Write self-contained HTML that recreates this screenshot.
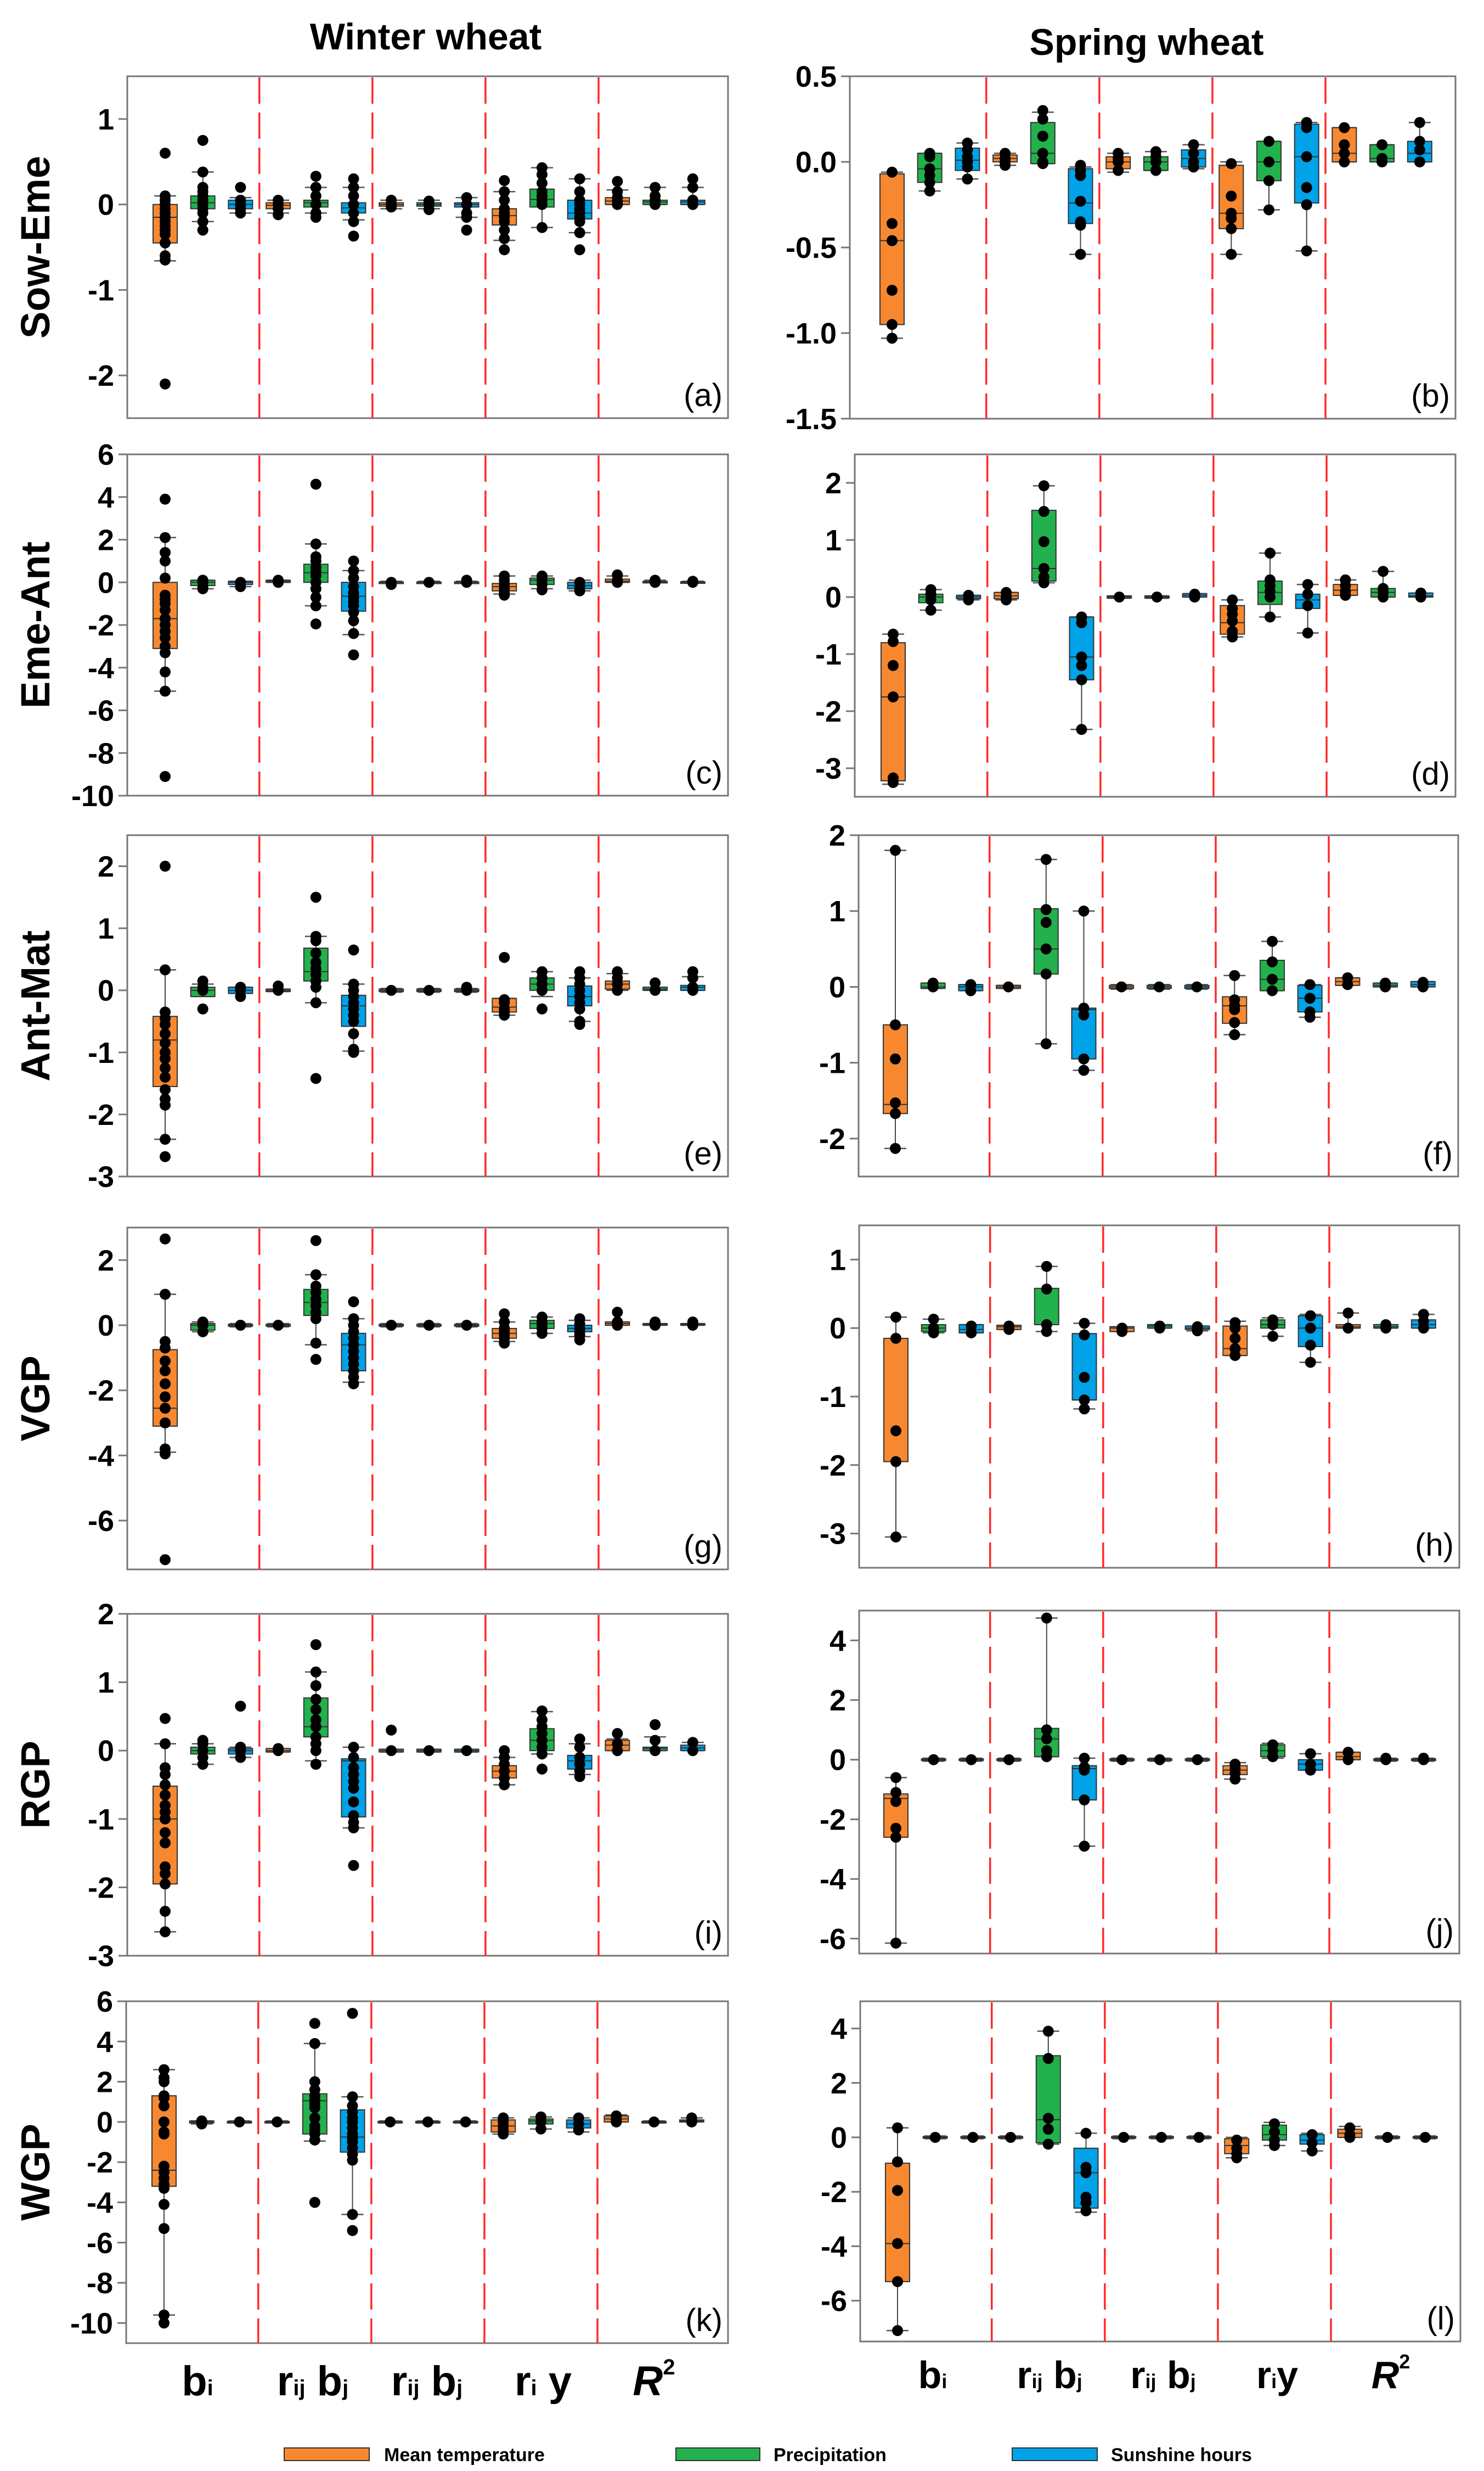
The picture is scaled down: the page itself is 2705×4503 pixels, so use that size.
<!DOCTYPE html>
<html><head><meta charset="utf-8"><title>Winter vs Spring wheat boxplots</title>
<style>
html,body{margin:0;padding:0;background:#fff;}
svg{display:block;font-family:"Liberation Sans",Arial,sans-serif;}
</style></head>
<body>
<svg id="fig" xmlns="http://www.w3.org/2000/svg" width="2705" height="4503" viewBox="0 0 2705 4503">
<rect x="0" y="0" width="2705" height="4503" fill="#fff"/>
<text x="776" y="90" font-size="68" font-weight="bold" text-anchor="middle">Winter wheat</text>
<text x="2090" y="100" font-size="68" font-weight="bold" text-anchor="middle">Spring wheat</text>
<g font-weight="bold" font-size="76">
<text x="360" y="4365" text-anchor="middle">b<tspan font-size="40" dy="0">i</tspan></text>
<text x="570" y="4365" text-anchor="middle">r<tspan font-size="40">ij</tspan> b<tspan font-size="40">j</tspan></text>
<text x="778" y="4365" text-anchor="middle">r<tspan font-size="40">ij</tspan> b<tspan font-size="40">j</tspan></text>
<text x="990" y="4365" text-anchor="middle">r<tspan font-size="40">i</tspan> y</text>
<text x="1192" y="4365" text-anchor="middle"><tspan font-style="italic">R</tspan><tspan font-size="40" dy="-38">2</tspan></text>
</g>
<g font-weight="bold" font-size="70">
<text x="1700" y="4352" text-anchor="middle">b<tspan font-size="36">i</tspan></text>
<text x="1913" y="4352" text-anchor="middle">r<tspan font-size="36">ij</tspan> b<tspan font-size="36">j</tspan></text>
<text x="2120" y="4352" text-anchor="middle">r<tspan font-size="36">ij</tspan> b<tspan font-size="36">j</tspan></text>
<text x="2328" y="4352" text-anchor="middle">r<tspan font-size="36">i</tspan>y</text>
<text x="2535" y="4352" text-anchor="middle"><tspan font-style="italic">R</tspan><tspan font-size="36" dy="-36">2</tspan></text>
</g>
<g font-size="34" font-weight="bold">
<rect x="518" y="4461" width="155" height="23" fill="#f7882f" stroke="#333" stroke-width="2"/>
<text x="700" y="4485">Mean temperature</text>
<rect x="1232" y="4461" width="153" height="23" fill="#22b14c" stroke="#333" stroke-width="2"/>
<text x="1410" y="4485">Precipitation</text>
<rect x="1845" y="4461" width="155" height="23" fill="#00a2e8" stroke="#333" stroke-width="2"/>
<text x="2025" y="4485">Sunshine hours</text>
</g>
</svg>
<script>
// ---------- data: box stats [low whisker, q1, median, q3, high whisker] ----------
const seriesNames = ["Mean temperature","Precipitation","Sunshine hours"];
const categories = ["bi","rij bj","rij bj","ri y","R2"];

const boxesA = [[-0.66,-0.45,-0.15,0,0.1],[-0.2,-0.05,0.02,0.1,0.38],[-0.1,-0.05,0,0.05,0.08],[-0.1,-0.05,-0.01,0.02,0.05],[-0.1,-0.03,0.02,0.05,0.2],[-0.18,-0.1,-0.04,0.02,0.2],[-0.05,-0.02,0,0.02,0.05],[-0.05,-0.02,0,0.02,0.05],[-0.15,-0.03,0,0.02,0.08],[-0.42,-0.24,-0.13,-0.05,0.15],[-0.27,-0.03,0.06,0.18,0.43],[-0.33,-0.17,-0.1,0.05,0.3],[0,0,0.04,0.08,0.17],[0,0,0.03,0.05,0.2],[0,0,0.03,0.05,0.2]];
const dotsA = [[0.6,-2.1,0.1,0.05,0,-0.05,-0.1,-0.15,-0.2,-0.25,-0.3,-0.35,-0.45,-0.6,-0.65],[0.75,-0.3,0.38,0.2,0.15,0.1,0.05,0,-0.05,-0.1,-0.2],[0.2,0.05,0,-0.05,-0.1],[0.05,0,-0.05,-0.12],[0.33,0.2,0.1,0,-0.1,-0.15],[0.3,0.2,0.1,0,-0.1,-0.2,-0.37],[0.05,0,-0.03],[0.04,0,-0.06],[0.08,0,-0.1,-0.15,-0.3],[0.28,0.15,0.05,-0.05,-0.1,-0.15,-0.2,-0.3,-0.4,-0.53],[0.43,0.35,0.25,0.15,0.1,0.05,0,-0.27],[0.3,0.15,0.05,0,-0.05,-0.1,-0.15,-0.2,-0.33,-0.53],[0.27,0.15,0.08,0.04,0],[0.2,0.1,0.05,0],[0.3,0.2,0.05,0]];

const boxesC = [[-5.1,-3.1,-1.7,0,2.1],[-0.3,-0.15,0,0.1,0.1],[-0.2,-0.1,0,0.05,0.05],[0,0,0.05,0.1,0.1],[-1.1,0,0.45,0.85,1.8],[-2.45,-1.35,-0.65,0,0.55],[-0.05,-0.02,0,0.02,0.05],[-0.05,-0.02,0,0.02,0.05],[-0.05,-0.02,0,0.02,0.05],[-0.55,-0.4,-0.2,-0.05,0.3],[-0.3,-0.1,0.1,0.2,0.3],[-0.4,-0.3,-0.15,0,0.1],[0,0,0.05,0.15,0.3],[0,0,0.02,0.05,0.1],[0,0,0.01,0.03,0.05]];
const dotsC = [[3.9,-9.1,2.1,1.4,1,0.2,-0.6,-0.8,-1,-1.3,-1.7,-2,-2.3,-2.6,-3,-3.3,-4.2,-5.1],[0.1,0,-0.2,-0.3],[0,-0.2],[0.1,0],[4.6,1.8,1.2,1,0.7,0.5,0.3,0,-0.3,-0.7,-1.1,-1.95],[1,0.55,0.2,-0.2,-0.5,-0.7,-0.9,-1.1,-1.4,-1.8,-2.4,-3.4],[-0.1,0],[0],[0.1,0],[0.3,0.1,-0.1,-0.3,-0.5,-0.6],[0.3,0.1,-0.1,-0.35],[0,-0.2,-0.4],[0.35,0.1,0],[0.1,0],[0.05,0]];

const boxesE = [[-2.4,-1.55,-0.8,-0.42,0.33],[-0.1,-0.1,0,0.05,0.1],[-0.05,-0.05,0,0.05,0.05],[-0.02,-0.02,0,0.02,0.02],[-0.2,0.15,0.3,0.68,0.87],[-0.98,-0.58,-0.25,-0.08,0.1],[-0.03,-0.02,0,0.02,0.03],[-0.03,-0.02,0,0.02,0.03],[-0.03,-0.02,0,0.02,0.03],[-0.4,-0.35,-0.27,-0.13,-0.13],[-0.1,0,0.1,0.2,0.3],[-0.5,-0.25,-0.1,0.07,0.2],[0,0.02,0.1,0.15,0.27],[0,0,0.02,0.05,0.05],[0,0,0.05,0.08,0.22]];
const dotsE = [[2.0,-2.68,0.33,-0.35,-0.45,-0.55,-0.7,-0.85,-1,-1.1,-1.25,-1.4,-1.6,-1.75,-1.85,-2.4],[0.15,0.05,0,-0.3],[0.05,0,-0.1],[0.07,0],[1.5,0.87,0.8,0.6,0.45,0.35,0.25,0.15,0.05,-0.2,-1.42],[0.65,0.1,0,-0.1,-0.2,-0.3,-0.4,-0.5,-0.7,-0.95,-1],[0],[0],[0.05,0],[0.53,-0.15,-0.2,-0.3,-0.35,-0.4],[0.3,0.2,0.1,0,-0.3],[0.3,0.2,0.1,0,-0.1,-0.2,-0.3,-0.5,-0.55],[0.3,0.2,0.1,0],[0.12,0],[0.3,0.2,0.05,0]];

const boxesG = [[-3.9,-3.1,-2.55,-0.75,0.95],[-0.2,-0.15,0,0.05,0.1],[-0.05,-0.03,0,0.03,0.05],[-0.05,-0.03,0,0.03,0.05],[-0.6,0.3,0.7,1.1,1.55],[-1.75,-1.4,-0.6,-0.25,0.2],[-0.05,-0.03,0,0.03,0.05],[-0.05,-0.03,0,0.03,0.05],[-0.05,-0.03,0,0.03,0.05],[-0.5,-0.4,-0.25,-0.1,0.1],[-0.25,-0.1,0.05,0.15,0.25],[-0.35,-0.2,-0.1,0,0.15],[0,0,0.05,0.1,0.1],[0,0,0.02,0.05,0.05],[0,0,0.02,0.05,0.05]];
const dotsG = [[2.65,-7.2,0.95,-0.5,-0.7,-1.1,-1.4,-1.8,-2.2,-2.55,-3,-3.8,-3.95],[0.1,0,-0.2],[0],[0],[2.6,1.55,1.2,1,0.8,0.6,0.4,0.2,-0.55,-1.05],[0.72,0.2,0,-0.2,-0.4,-0.6,-0.8,-1,-1.2,-1.4,-1.6,-1.8],[0],[0],[0],[0.35,0.1,-0.1,-0.2,-0.3,-0.4,-0.55],[0.25,0.1,0,-0.1,-0.25],[0.2,0.05,-0.1,-0.2,-0.3,-0.45],[0.4,0.1,0],[0.1,0],[0.1,0]];

const boxesI = [[-2.65,-1.95,-1,-0.52,0.1],[-0.2,-0.05,0,0.05,0.1],[-0.1,-0.05,0,0.03,0.05],[-0.02,-0.02,0,0.03,0.03],[-0.15,0.2,0.35,0.77,1.15],[-1.13,-0.97,-0.15,-0.12,0.05],[-0.02,-0.02,0,0.02,0.02],[-0.02,-0.02,0,0.02,0.02],[-0.02,-0.02,0,0.02,0.02],[-0.5,-0.4,-0.3,-0.22,-0.1],[-0.05,0,0.15,0.32,0.57],[-0.35,-0.27,-0.15,-0.07,0.1],[0,0,0.08,0.15,0.17],[0,0,0.03,0.05,0.2],[0,0,0.04,0.08,0.12]];
const dotsI = [[0.47,0.1,-0.25,-0.35,-0.5,-0.65,-0.8,-0.9,-1,-1.2,-1.35,-1.7,-1.8,-1.95,-2.35,-2.65],[0.15,0.1,0,-0.1,-0.2],[0.65,0.05,0,-0.1],[0.03,0],[1.55,1.15,0.95,0.75,0.6,0.45,0.35,0.2,0.1,0,-0.2],[0.05,-0.1,-0.25,-0.35,-0.45,-0.55,-0.75,-0.95,-1.05,-1.13,-1.68],[0.3,0],[0],[0],[0,-0.1,-0.2,-0.3,-0.4,-0.5],[0.58,0.45,0.35,0.25,0.15,0.05,-0.05,-0.27],[0.17,0.05,-0.1,-0.2,-0.3,-0.38],[0.25,0.1,0],[0.38,0.15,0],[0.12,0]];

const boxesK = [[-9.6,-3.2,-2.4,1.3,2.6],[-0.1,-0.05,0,0.05,0.05],[-0.05,-0.03,0,0.03,0.05],[-0.05,-0.03,0,0.03,0.05],[-0.95,-0.6,1.05,1.4,3.9],[-4.6,-1.5,-0.75,0.6,1.25],[-0.05,-0.03,0,0.03,0.05],[-0.05,-0.03,0,0.03,0.05],[-0.05,-0.03,0,0.03,0.05],[-0.6,-0.5,-0.2,0.1,0.2],[-0.35,-0.1,0.05,0.15,0.25],[-0.5,-0.3,-0.1,0.1,0.2],[0,0,0.15,0.3,0.35],[-0.05,-0.03,0,0.03,0.05],[0,0,0.05,0.1,0.2]];
const dotsK = [[2.6,2.2,2,1.3,1.2,0.8,0,-0.5,-0.6,-2.2,-2.5,-2.8,-3.1,-3.3,-4.1,-5.3,-9.6,-10],[0.05,0,-0.1],[0],[0],[4.9,3.9,2,1.6,1.3,1.1,0.9,0.7,0.2,-0.2,-0.4,-0.6,-0.9,-4],[5.4,1.25,0.8,0.5,0.2,0,-0.3,-0.6,-0.8,-1,-1.3,-1.6,-1.9,-4.6,-5.4],[0],[0],[0],[0.2,0,-0.2,-0.4,-0.6],[0.25,0,-0.35],[0.2,-0.1,-0.4],[0.3,0.1,0],[0],[0.2,0]];

const boxesB = [[-1.03,-0.95,-0.46,-0.07,-0.06],[-0.17,-0.12,-0.04,0.05,0.05],[-0.1,-0.05,0.01,0.08,0.11],[-0.02,0,0.02,0.04,0.05],[-0.01,-0.01,0.05,0.23,0.29],[-0.54,-0.36,-0.24,-0.04,-0.03],[-0.06,-0.04,0,0.03,0.05],[-0.05,-0.05,0,0.03,0.06],[-0.04,-0.03,0.02,0.07,0.1],[-0.54,-0.39,-0.3,-0.02,0],[-0.28,-0.11,0,0.12,0.12],[-0.52,-0.24,0.03,0.22,0.23],[0,0,0.05,0.2,0.2],[0,0,0.02,0.1,0.1],[0,0,0.05,0.12,0.23]];
const dotsB = [[-0.06,-0.36,-0.46,-0.75,-0.95,-1.03],[0.05,0.03,-0.04,-0.08,-0.12,-0.17],[0.11,0.07,0.03,0,-0.03,-0.1],[0.05,0.02,0,-0.02],[0.3,0.25,0.15,0.05,0,-0.01],[-0.02,-0.05,-0.08,-0.23,-0.35,-0.37,-0.54],[0.05,0.02,0,-0.05],[0.06,0.03,0,-0.05],[0.1,0.05,0,-0.03],[-0.01,-0.2,-0.3,-0.33,-0.39,-0.54],[0.12,0,-0.11,-0.28],[0.23,0.2,0.03,-0.15,-0.25,-0.52],[0.2,0.1,0.05,0],[0.1,0.02,0],[0.23,0.12,0.07,0]];

const boxesD = [[-3.28,-3.22,-1.75,-0.8,-0.65],[-0.23,-0.1,0,0.05,0.13],[-0.05,-0.03,0,0.03,0.03],[-0.05,-0.03,0.02,0.08,0.08],[0.25,0.28,0.5,1.52,1.95],[-2.32,-1.45,-1.05,-0.35,-0.35],[-0.02,-0.02,0,0.02,0.02],[-0.02,-0.02,0,0.02,0.02],[0,0,0.03,0.06,0.06],[-0.7,-0.65,-0.45,-0.15,-0.05],[-0.35,-0.13,0.08,0.28,0.77],[-0.63,-0.2,-0.05,0.05,0.22],[0.03,0.03,0.12,0.22,0.3],[0,0,0.08,0.15,0.45],[0,0,0.02,0.07,0.07]];
const dotsD = [[-0.65,-0.78,-1.2,-1.75,-3.17,-3.25],[0.13,0.05,-0.05,-0.23],[0.03,-0.05],[0.08,0,-0.05],[1.95,1.5,0.97,0.5,0.35,0.25],[-0.35,-0.45,-1.05,-1.2,-1.45,-2.32],[0],[0],[0.05,0],[-0.05,-0.2,-0.3,-0.42,-0.6,-0.7],[0.77,0.3,0.2,0.1,0,-0.35],[0.22,0.05,-0.15,-0.63],[0.3,0.2,0.1,0.03],[0.45,0.15,0.08,0],[0.07,0]];

const boxesF = [[-2.13,-1.67,-1.55,-0.5,1.8],[-0.02,-0.02,0,0.05,0.05],[-0.05,-0.05,0,0.03,0.03],[-0.02,-0.02,0,0.02,0.02],[-0.75,0.17,0.5,1.03,1.68],[-1.1,-0.95,-0.3,-0.28,1.0],[-0.03,-0.02,0,0.02,0.03],[-0.03,-0.02,0,0.02,0.03],[-0.03,-0.02,0,0.02,0.03],[-0.63,-0.48,-0.25,-0.13,0.15],[-0.05,-0.05,0.1,0.35,0.6],[-0.4,-0.33,-0.15,0.02,0.03],[0.02,0.02,0.07,0.12,0.12],[0,0,0.02,0.05,0.05],[0,0,0.03,0.07,0.07]];
const dotsF = [[1.8,-0.5,-0.95,-1.53,-1.67,-2.13],[0.05,0],[0.03,-0.05],[0],[1.68,1.02,0.85,0.5,0.17,-0.75],[1.0,-0.28,-0.37,-0.95,-1.1],[0],[0],[0],[0.15,-0.17,-0.25,-0.3,-0.47,-0.63],[0.6,0.33,0.1,-0.05],[0.03,-0.15,-0.33,-0.4],[0.12,0.03],[0.05,0],[0.06,0]];

const boxesH = [[-3.05,-1.95,-1.95,-0.15,0.16],[-0.07,-0.05,0,0.05,0.13],[-0.07,-0.07,-0.02,0.05,0.05],[-0.02,-0.02,0.02,0.04,0.04],[-0.05,0.05,0.05,0.58,0.9],[-1.18,-1.05,-1.05,-0.08,0.07],[-0.05,-0.05,0,0.02,0.02],[0,0,0.03,0.05,0.05],[-0.04,-0.02,0,0.03,0.03],[-0.4,-0.4,-0.3,0.03,0.1],[-0.12,0,0.05,0.12,0.15],[-0.5,-0.27,0,0.18,0.2],[0,0,0.02,0.05,0.22],[0,0,0.02,0.05,0.05],[0,0,0.05,0.12,0.2]];
const dotsH = [[0.16,-0.15,-1.5,-1.95,-3.05],[0.13,0,-0.07],[0.03,-0.07],[0.03,-0.02],[0.9,0.57,0.05,-0.05],[0.07,-0.1,-0.72,-1.05,-1.18],[0,-0.05],[0.03,0],[0.02,-0.04],[0.08,0,-0.15,-0.3,-0.4],[0.12,0.05,-0.12],[0.18,0,-0.25,-0.5],[0.22,0],[0.05,0],[0.2,0.1,0]];

const boxesJ = [[-6.15,-2.6,-1.3,-1.15,-0.6],[-0.05,-0.03,0,0.03,0.05],[-0.05,-0.03,0,0.03,0.05],[-0.05,-0.03,0,0.03,0.05],[0.1,0.1,0.7,1.05,4.75],[-2.9,-1.35,-0.3,-0.2,0.05],[-0.05,-0.03,0,0.03,0.05],[-0.05,-0.03,0,0.03,0.05],[-0.05,-0.03,0,0.03,0.05],[-0.65,-0.5,-0.35,-0.2,-0.1],[0.05,0.1,0.3,0.5,0.55],[-0.35,-0.35,-0.15,0,0.2],[0,0,0.1,0.25,0.25],[-0.05,-0.03,0,0.03,0.05],[-0.05,-0.03,0,0.03,0.05]];
const dotsJ = [[-0.6,-1.1,-1.4,-2.3,-2.6,-6.15],[0],[0],[0],[4.75,1,0.7,0.3,0.1],[0.05,-0.25,-0.35,-1.35,-2.9],[0],[0],[0],[-0.15,-0.3,-0.45,-0.65],[0.5,0.3,0.1],[0.2,-0.15,-0.35],[0.25,0],[0.05,0],[0.05,0]];

const boxesL = [[-7.1,-5.3,-3.9,-0.95,0.35],[-0.05,-0.03,0,0.03,0.05],[-0.05,-0.03,0,0.03,0.05],[-0.05,-0.03,0,0.03,0.05],[-0.25,-0.2,0.65,3.0,3.9],[-2.75,-2.6,-1.3,-0.4,0.15],[-0.05,-0.03,0,0.03,0.05],[-0.05,-0.03,0,0.03,0.05],[-0.05,-0.03,0,0.03,0.05],[-0.75,-0.6,-0.3,-0.05,0],[-0.3,-0.1,0.1,0.45,0.55],[-0.5,-0.25,-0.1,0.1,0.15],[0,0,0.15,0.3,0.4],[-0.05,-0.03,0,0.03,0.05],[-0.05,-0.03,0,0.03,0.05]];
const dotsL = [[0.35,-0.9,-1.95,-3.9,-5.3,-7.1],[0],[0],[0],[3.9,2.9,0.7,0.3,-0.25],[0.15,-1.1,-1.3,-2.2,-2.4,-2.7],[0],[0],[0],[-0.1,-0.4,-0.6,-0.75],[0.5,0.2,-0.1,-0.3],[0.1,-0.2,-0.5],[0.35,0.1,0],[0],[0]];

// ---------- tick labels ----------
const ticksA = [1,0,-1,-2];
const ticksC = [6,4,2,0,-2,-4,-6,-8,-10];
const ticksE = [2,1,0,-1,-2,-3];
const ticksG = [2,0,-2,-4,-6];
const ticksI = [2,1,0,-1,-2,-3];
const ticksK = [6,4,2,0,-2,-4,-6,-8,-10];
const ticksB = [0.5,0.0,-0.5,-1.0,-1.5];
const ticksD = [2,1,0,-1,-2,-3];
const ticksF = [2,1,0,-1,-2];
const ticksH = [1,0,-1,-2,-3];
const ticksJ = [4,2,0,-2,-4,-6];
const ticksL = [4,2,0,-2,-4,-6];

// ---------- layout (geometry only) ----------
const panels = [
 {id:"a",ylab:"Sow-Eme",x0:232,x1:1327,y0:139,y1:762,min:-2.5,max:1.5,first:301,boxes:boxesA,dots:dotsA,ticks:ticksA,dec:0},
 {id:"c",ylab:"Eme-Ant",x0:232,x1:1327,y0:828,y1:1450,min:-10,max:6,first:301,boxes:boxesC,dots:dotsC,ticks:ticksC,dec:0},
 {id:"e",ylab:"Ant-Mat",x0:232,x1:1327,y0:1522,y1:2144,min:-3,max:2.5,first:301,boxes:boxesE,dots:dotsE,ticks:ticksE,dec:0},
 {id:"g",ylab:"VGP",x0:232,x1:1327,y0:2237,y1:2860,min:-7.5,max:3,first:301,boxes:boxesG,dots:dotsG,ticks:ticksG,dec:0},
 {id:"i",ylab:"RGP",x0:232,x1:1327,y0:2941,y1:3564,min:-3,max:2,first:301,boxes:boxesI,dots:dotsI,ticks:ticksI,dec:0},
 {id:"k",ylab:"WGP",x0:230,x1:1327,y0:3647,y1:4270,min:-11,max:6,first:299,boxes:boxesK,dots:dotsK,ticks:ticksK,dec:0},
 {id:"b",ylab:null,x0:1549,x1:2653,y0:139,y1:763,min:-1.5,max:0.5,first:1626,boxes:boxesB,dots:dotsB,ticks:ticksB,dec:1},
 {id:"d",ylab:null,x0:1558,x1:2653,y0:828,y1:1452,min:-3.5,max:2.5,first:1628,boxes:boxesD,dots:dotsD,ticks:ticksD,dec:0},
 {id:"f",ylab:null,x0:1565,x1:2658,y0:1522,y1:2144,min:-2.5,max:2,first:1632,boxes:boxesF,dots:dotsF,ticks:ticksF,dec:0},
 {id:"h",ylab:null,x0:1566,x1:2660,y0:2233,y1:2857,min:-3.5,max:1.5,first:1633,boxes:boxesH,dots:dotsH,ticks:ticksH,dec:0},
 {id:"j",ylab:null,x0:1566,x1:2660,y0:2935,y1:3560,min:-6.5,max:5,first:1633,boxes:boxesJ,dots:dotsJ,ticks:ticksJ,dec:0},
 {id:"l",ylab:null,x0:1568,x1:2662,y0:3647,y1:4267,min:-7.5,max:5,first:1636,boxes:boxesL,dots:dotsL,ticks:ticksL,dec:0}
];
const colors = ["#f7882f","#22b14c","#00a2e8"];
const NS = "http://www.w3.org/2000/svg";
const svg = document.getElementById("fig");
const STEP = 68.7, BW = 44;

function mk(tag, attrs, parent){
  const e = document.createElementNS(NS, tag);
  for (const k in attrs) e.setAttribute(k, attrs[k]);
  parent.appendChild(e);
  return e;
}

panels.forEach(p => {
  const g = mk("g", {}, svg);
  
  
  const yS = v => p.y0 + (p.max - v) / (p.max - p.min) * (p.y1 - p.y0);
  const xS = i => p.first + STEP * i;

  // frame
  const fr = mk("rect", {x:p.x0, y:p.y0, width:p.x1-p.x0, height:p.y1-p.y0, fill:"none", stroke:"#777", "stroke-width":3}, g);
  
  

  // ticks
  p.ticks.forEach(t => {
    const y = yS(t);
    const tl = mk("line", {x1:p.x0-16, x2:p.x0, y1:y, y2:y, stroke:"#777", "stroke-width":3}, g);
    
    
    const tx = mk("text", {x:p.x0-24, y:y+19, "font-size":54, "font-weight":"bold", "text-anchor":"end"}, g);
    tx.textContent = t.toFixed(p.dec);
    
    
  });

  // separators
  for (let k = 0; k < 4; k++) {
    const x = p.first + STEP * (2.5 + 3 * k);
    const sl = mk("line", {x1:x, x2:x, y1:p.y0+2, y2:p.y1, stroke:"#ff2a2a", "stroke-width":3.5, "stroke-dasharray":"48 16"}, g);
    
    
  }

  // boxes
  p.boxes.forEach((b, i) => {
    const cx = xS(i);
    const bg = mk("g", {}, g);
    
    
    mk("line", {x1:cx, x2:cx, y1:yS(b[4]), y2:yS(b[0]), stroke:"#444", "stroke-width":2}, bg);
    mk("line", {x1:cx-20, x2:cx+20, y1:yS(b[4]), y2:yS(b[4]), stroke:"#555", "stroke-width":2.5}, bg);
    mk("line", {x1:cx-20, x2:cx+20, y1:yS(b[0]), y2:yS(b[0]), stroke:"#555", "stroke-width":2.5}, bg);
    const top = yS(b[3]), bot = yS(b[1]);
    mk("rect", {x:cx-BW/2, y:top, width:BW, height:Math.max(bot-top,3), fill:colors[i%3], stroke:"#333", "stroke-width":2}, bg);
    mk("line", {x1:cx-BW/2, x2:cx+BW/2, y1:yS(b[2]), y2:yS(b[2]), stroke:"#333", "stroke-width":2}, bg);
    p.dots[i].forEach(v => {
      const d = mk("circle", {cx:cx, cy:yS(v), r:10, fill:"#000"}, bg);
      
      
    });
  });

  // panel tag
  const lt = mk("text", {x:p.x1-10, y:p.y1-22, "font-size":58, "text-anchor":"end"}, g);
  lt.textContent = "(" + p.id + ")";
  
  

  // y axis title
  if (p.ylab) {
    const cy = (p.y0 + p.y1) / 2;
    const yt = mk("text", {x:0, y:0, "font-size":74, "font-weight":"bold", "text-anchor":"middle", transform:"translate(90," + cy + ") rotate(-90)"}, g);
    yt.textContent = p.ylab;
    
    
  }
});
</script>
</body></html>
